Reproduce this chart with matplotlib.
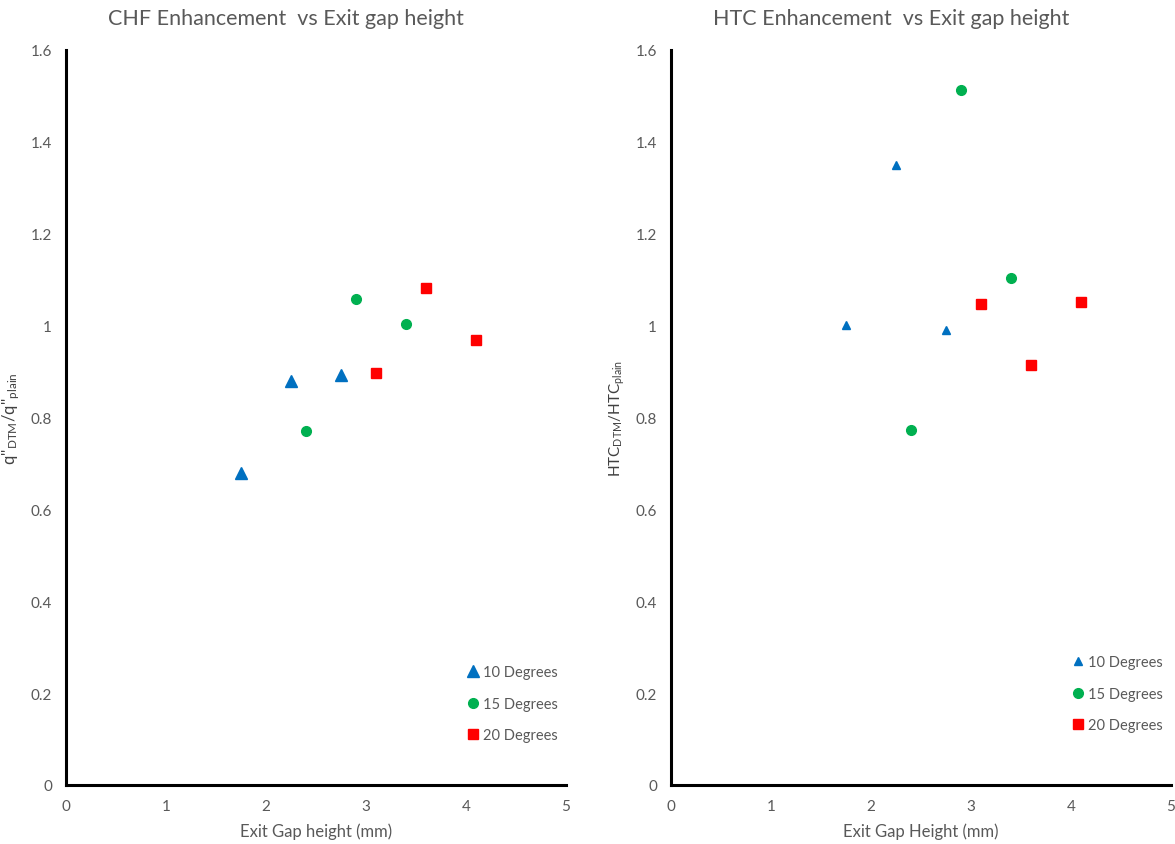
"""
CHF and HTC enhancement vs exit gap height
"""

import matplotlib
matplotlib.use("Agg")
import matplotlib.pyplot as plt

plt.rcParams['font.family'] = ['Lato', 'DejaVu Sans']
plt.rcParams['mathtext.fontset'] = 'custom'
plt.rcParams['mathtext.rm'] = 'Lato'

# Данные
gap_10 = [1.75, 2.25, 2.75]
gap_15 = [2.4, 2.9, 3.4]
gap_20 = [3.1, 3.6, 4.1]

chf_10 = [0.68, 0.879, 0.892]
chf_15 = [0.771, 1.058, 1.003]
chf_20 = [0.897, 1.082, 0.969]

htc_10 = [1.001, 1.35, 0.99]
htc_15 = [0.773, 1.513, 1.104]
htc_20 = [1.047, 0.914, 1.051]

labels = ['10 Degrees', '15 Degrees', '20 Degrees']
x_ticks = [0, 1, 2, 3, 4, 5]
y_ticks = [0, 0.2, 0.4, 0.6, 0.8, 1.0, 1.2, 1.4, 1.6]
y_tick_labels = ['0', '0.2', '0.4', '0.6', '0.8', '1', '1.2', '1.4', '1.6']

BLUE = '#0070C0'
GREEN = '#00B050'
RED = '#FF0000'
GRAY = '#595959'


def style_axes(ax, title, xlabel, ylabel, ylabel_size):
    ax.set_xlim(0, 5)
    ax.set_ylim(0, 1.6)
    ax.set_xticks(x_ticks)
    ax.set_yticks(y_ticks)
    ax.set_yticklabels(y_tick_labels)
    ax.tick_params(axis='y', length=0, labelsize=11, colors=GRAY, pad=10)
    ax.tick_params(axis='x', length=0, labelsize=11, colors=GRAY, pad=10)
    for s in ['top', 'right']:
        ax.spines[s].set_visible(False)
    for s in ['left', 'bottom']:
        ax.spines[s].set_linewidth(2.2)
        ax.spines[s].set_color('black')
    # заголовок в Excel смещён немного влево
    ax.set_title(title, fontsize=15.5, color=GRAY, pad=19, x=0.44)
    ax.set_xlabel(xlabel, fontsize=12, color=GRAY, labelpad=7)
    ax.set_ylabel(ylabel, fontsize=ylabel_size, color='#404040', labelpad=6)


def style_legend(ax, anchor):
    leg = ax.legend(loc='lower right', bbox_to_anchor=anchor, frameon=False,
                    fontsize=10.5, handletextpad=0.05, labelspacing=1.2,
                    handlelength=1.2, borderaxespad=0)
    for t in leg.get_texts():
        t.set_color(GRAY)


fig = plt.figure(figsize=(11.75, 8.45), dpi=100)
ax1 = fig.add_axes([66 / 1175, 59 / 845, 500 / 1175, 735 / 845])
ax2 = fig.add_axes([671 / 1175, 59 / 845, 500 / 1175, 735 / 845])

# Левый график: CHF
ax1.plot(gap_10, chf_10, '^', color=BLUE, ms=8, label=labels[0])
ax1.plot(gap_15, chf_15, 'o', color=GREEN, ms=7, label=labels[1])
ax1.plot(gap_20, chf_20, 's', color=RED, ms=6.5, label=labels[2])
style_axes(ax1, 'CHF Enhancement  vs Exit gap height', 'Exit Gap height (mm)',
           r"q''$\mathregular{_{DTM}}$/q''$\mathregular{_{plain}}$", 12)
style_legend(ax1, (0.995, 0.05))

# Правый график: HTC
ax2.plot(gap_10, htc_10, '^', color=BLUE, ms=6, label=labels[0])
ax2.plot(gap_15, htc_15, 'o', color=GREEN, ms=7, label=labels[1])
ax2.plot(gap_20, htc_20, 's', color=RED, ms=6.5, label=labels[2])
style_axes(ax2, 'HTC Enhancement  vs Exit gap height', 'Exit Gap Height (mm)',
           r"HTC$\mathregular{_{DTM}}$/HTC$\mathregular{_{plain}}$", 11)
style_legend(ax2, (0.995, 0.064))

plt.savefig('out.png', dpi=100)
